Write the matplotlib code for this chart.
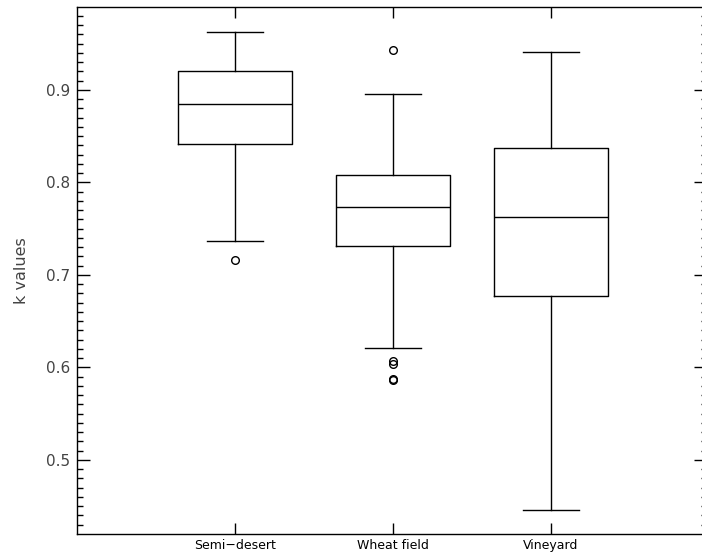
import matplotlib
matplotlib.use("Agg")
import matplotlib.pyplot as plt
from matplotlib.ticker import MultipleLocator

# ── Data ─────────────────────────────────────────────────────────────────────
categories = ["Semi\u2212desert", "Wheat field", "Vineyard"]
q1       = [0.842, 0.731, 0.677]
median   = [0.885, 0.773, 0.763]
q3       = [0.920, 0.808, 0.837]
whis_lo  = [0.737, 0.621, 0.446]
whis_hi  = [0.963, 0.896, 0.941]
fliers   = [[0.716], [0.943, 0.607, 0.604, 0.588, 0.586], []]

stats = [
    dict(label=c, q1=a, med=m, q3=b, whislo=lo, whishi=hi, fliers=f)
    for c, a, m, b, lo, hi, f in zip(categories, q1, median, q3, whis_lo, whis_hi, fliers)
]

fig = plt.figure(figsize=(7.02, 5.58), dpi=100)
ax = fig.add_axes([77 / 702, (558 - 533.5) / 558, 630 / 702, 526.5 / 558])

lw = 1.0
line = dict(color="black", linewidth=lw)
ax.bxp(stats, positions=[1, 2, 3], widths=0.72, capwidths=0.36,
       boxprops=line, medianprops=line, whiskerprops=line, capprops=line,
       flierprops=dict(marker="o", markersize=5.5, markerfacecolor="none",
                       markeredgecolor="black", markeredgewidth=1.0),
       manage_ticks=False)

ax.set_xlim(0, 3.987)
ax.set_ylim(0.4205, 0.9897)

ax.set_xticks([1, 2, 3])
ax.set_xticklabels(categories, fontsize=9, color="black")
ax.yaxis.set_major_locator(MultipleLocator(0.1))
ax.yaxis.set_minor_locator(MultipleLocator(0.01))
ax.set_yticks([0.5, 0.6, 0.7, 0.8, 0.9])
ax.set_yticklabels(["0.5", "0.6", "0.7", "0.8", "0.9"], fontsize=11, color="#444444")

ax.tick_params(axis="x", which="major", direction="in", length=8, width=lw,
               top=True, bottom=True, pad=4)
ax.tick_params(axis="y", which="major", direction="in", length=9.5, width=lw,
               left=True, right=True, pad=5)
ax.tick_params(axis="y", which="minor", direction="in", length=4, width=lw,
               left=True, right=True)
ax.tick_params(axis="x", which="minor", bottom=False, top=False)

for s in ax.spines.values():
    s.set_linewidth(lw)
    s.set_color("black")

ax.set_ylabel("k values", fontsize=11.5, color="#444444")
ax.yaxis.set_label_coords(-0.076, 0.5)

fig.savefig("out.png", dpi=100)
